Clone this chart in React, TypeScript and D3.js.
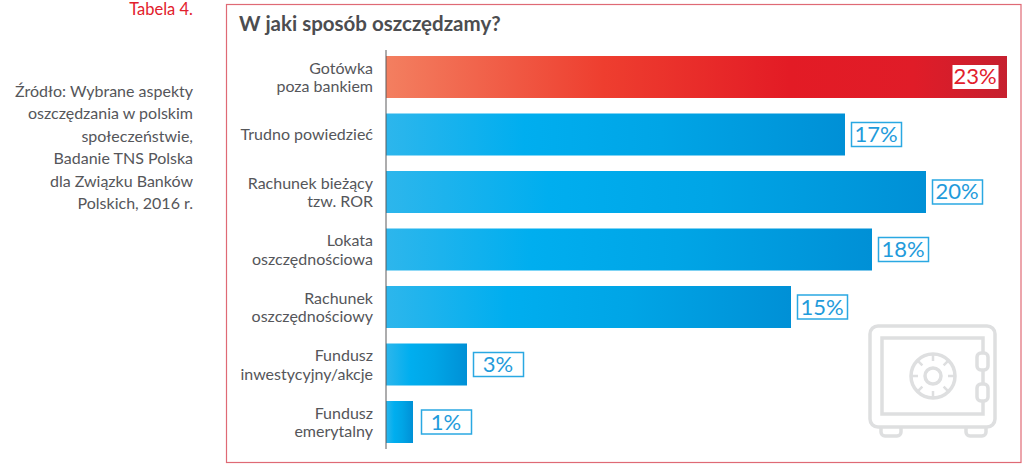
import { useEffect, useRef } from "react";
import * as d3 from "d3";

const title = "W jaki sposób oszczędzamy?";
const tableLabel = "Tabela 4.";
const sourceLines = [
  "Źródło: Wybrane aspekty",
  "oszczędzania w polskim",
  "społeczeństwie,",
  "Badanie TNS Polska",
  "dla Związku Banków",
  "Polskich, 2016 r.",
];

const categories = [
  "Gotówka\npoza bankiem",
  "Trudno powiedzieć",
  "Rachunek bieżący\ntzw. ROR",
  "Lokata\noszczędnościowa",
  "Rachunek\noszczędnościowy",
  "Fundusz\ninwestycyjny/akcje",
  "Fundusz\nemerytalny",
];
const values = [23, 17, 20, 18, 15, 3, 1];

const width = 1024;
const height = 468;
const font = "Lato, 'Noto Sans', sans-serif";
const grey = "#55565a";
const red = "#e2202c";
const blue = "#1f9bdb";

const App = () => {
  const svgRef = useRef<SVGSVGElement>(null);

  useEffect(() => {
    if (!svgRef.current) return;
    const svg = d3.select(svgRef.current);
    svg.selectAll("*").remove();

    const x = d3.scaleLinear().domain([0, 23]).range([386, 1007]);
    const y = d3
      .scaleBand<string>()
      .domain(categories)
      .range([56, 443])
      .paddingInner(0.2696)
      .paddingOuter(0);

    // gradienty słupków
    const defs = svg.append("defs");
    const addGradient = (id: string, stops: [number, string][]) => {
      const g = defs.append("linearGradient").attr("id", id);
      stops.forEach(([o, c]) => g.append("stop").attr("offset", o).attr("stop-color", c));
    };
    addGradient("barRed", [
      [0, "#f37f60"],
      [0.35, "#ee3e2f"],
      [0.65, "#e31b25"],
      [0.85, "#e01c28"],
      [1, "#c6202f"],
    ]);
    addGradient("barBlue", [
      [0, "#2db6ec"],
      [0.3, "#00aeef"],
      [0.6, "#00a5e6"],
      [1, "#0090d6"],
    ]);

    // ramka
    svg
      .append("rect")
      .attr("x", 226.5)
      .attr("y", 4.5)
      .attr("width", 794.5)
      .attr("height", 458)
      .attr("fill", "none")
      .attr("stroke", "#df6a75")
      .attr("stroke-width", 1.2);

    svg
      .append("text")
      .attr("x", 239)
      .attr("y", 31)
      .attr("fill", "#4c4d50")
      .style("font", `700 20.5px ${font}`)
      .text(title);

    svg
      .append("text")
      .attr("x", 193)
      .attr("y", 15)
      .attr("text-anchor", "end")
      .attr("fill", red)
      .style("font", `400 16.5px ${font}`)
      .text(tableLabel);

    svg
      .append("g")
      .selectAll("text")
      .data(sourceLines)
      .join("text")
      .attr("x", 193)
      .attr("y", (_, i) => 96.5 + i * 22.5)
      .attr("text-anchor", "end")
      .attr("fill", grey)
      .style("font", `400 16px ${font}`)
      .text((d) => d);

    // ikona sejfu
    const safe = svg
      .append("g")
      .attr("transform", "translate(870,326)")
      .attr("fill", "none")
      .attr("stroke", "#dedfe0")
      .attr("stroke-width", 3.5);
    safe.append("rect").attr("x", 0).attr("y", 0).attr("width", 125).attr("height", 101).attr("rx", 8);
    safe.append("rect").attr("x", 12).attr("y", 12).attr("width", 101).attr("height", 76);
    safe.append("circle").attr("cx", 63).attr("cy", 50).attr("r", 22);
    safe.append("circle").attr("cx", 63).attr("cy", 50).attr("r", 8);
    d3.range(8).forEach((i) => {
      const a = (i * Math.PI) / 4;
      safe
        .append("line")
        .attr("x1", 63 + 15 * Math.cos(a))
        .attr("y1", 50 + 15 * Math.sin(a))
        .attr("x2", 63 + 21 * Math.cos(a))
        .attr("y2", 50 + 21 * Math.sin(a))
        .attr("stroke-width", 2.5);
    });
    [27, 58].forEach((py) => {
      safe
        .append("rect")
        .attr("x", 107)
        .attr("y", py)
        .attr("width", 11)
        .attr("height", 17)
        .attr("rx", 4)
        .attr("fill", "#fff");
    });
    [11, 96].forEach((px) => {
      safe
        .append("path")
        .attr("d", `M${px},102 v4 a4,4 0 0 0 4,4 h12 a4,4 0 0 0 4,-4 v-4`);
    });

    // etykiety kategorii
    svg
      .append("g")
      .selectAll("text")
      .data(categories)
      .join("text")
      .attr("text-anchor", "end")
      .attr("fill", grey)
      .style("font", `400 16px ${font}`)
      .each(function (d) {
        const lines = d.split("\n");
        const mid = y(d)! + y.bandwidth() / 2;
        d3.select(this)
          .selectAll("tspan")
          .data(lines)
          .join("tspan")
          .attr("x", 373)
          .attr("y", (_, i) => mid + 6 + (i - (lines.length - 1) / 2) * 18.5)
          .text((t) => t);
      });

    // słupki
    const rows = categories.map((name, i) => ({ name, value: values[i], top: i === 0 }));
    svg
      .append("g")
      .selectAll("rect")
      .data(rows)
      .join("rect")
      .attr("x", x(0))
      .attr("y", (d) => y(d.name)!)
      .attr("width", (d) => x(d.value) - x(0))
      .attr("height", y.bandwidth())
      .attr("fill", (d) => (d.top ? "url(#barRed)" : "url(#barBlue)"));

    // oś
    svg
      .append("line")
      .attr("x1", x(0))
      .attr("x2", x(0))
      .attr("y1", 50)
      .attr("y2", 449)
      .attr("stroke", "#5a5a5c")
      .attr("stroke-width", 1);

    // wartości
    const boxW = 50;
    const boxH = 25;
    const label = svg
      .append("g")
      .selectAll("g")
      .data(rows)
      .join("g")
      .attr("transform", (d) => {
        const left = d.top ? x(d.value) - 55 : x(d.value) + (d.value === 1 ? 8 : 6);
        return `translate(${left},${y(d.name)! + y.bandwidth() / 2 - boxH / 2})`;
      });
    label
      .append("rect")
      .attr("x", 0.5)
      .attr("y", 0.5)
      .attr("width", (d) => (d.top ? boxW - 4 : boxW))
      .attr("height", boxH - 1)
      .attr("fill", "#fff")
      .attr("stroke", (d) => (d.top ? "none" : "#2aa8e2"))
      .attr("stroke-width", 1.5);
    label
      .append("text")
      .attr("x", (d) => (d.top ? (boxW - 4) / 2 : boxW / 2))
      .attr("y", 20)
      .attr("text-anchor", "middle")
      .attr("fill", (d) => (d.top ? red : blue))
      .style("font", `400 22px ${font}`)
      .text((d) => `${d.value}%`);
  }, []);

  return (
    <svg
      ref={svgRef}
      width={width}
      height={height}
      viewBox={`0 0 ${width} ${height}`}
      style={{ position: "absolute", left: 0, top: 0, background: "#fff" }}
    ></svg>
  );
};

export default App;
